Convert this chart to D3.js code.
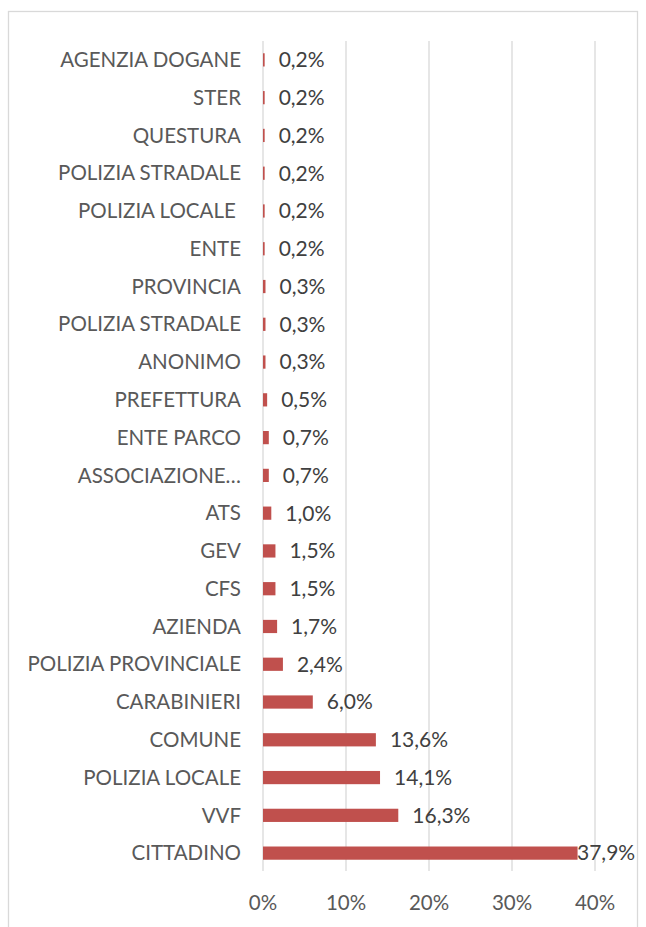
<!DOCTYPE html>
<html>
<head>
<meta charset="utf-8">
<title>Segnalazioni per fonte</title>
<script src="https://cdn.jsdelivr.net/npm/d3@7"></script>
<style>
  body { margin: 0; background: #fff; }
  svg text { font-family: Lato, "Open Sans", sans-serif; }
</style>
</head>
<body>
<div id="chart"></div>
<script>
// categories top -> bottom, values in %
var categories = ["AGENZIA DOGANE", "STER", "QUESTURA", "POLIZIA STRADALE", "POLIZIA LOCALE ",
  "ENTE", "PROVINCIA", "POLIZIA STRADALE", "ANONIMO", "PREFETTURA", "ENTE PARCO",
  "ASSOCIAZIONE…", "ATS", "GEV", "CFS", "AZIENDA", "POLIZIA PROVINCIALE", "CARABINIERI",
  "COMUNE", "POLIZIA LOCALE", "VVF", "CITTADINO"];
var values = [0.2, 0.2, 0.2, 0.2, 0.2, 0.2, 0.3, 0.3, 0.3, 0.5, 0.7, 0.7, 1.0, 1.5, 1.5, 1.7,
  2.4, 6.0, 13.6, 14.1, 16.3, 37.9];
var ticks = [0, 10, 20, 30, 40];

var width = 646, height = 927;

var svg = d3.select("#chart").append("svg")
  .attr("width", width)
  .attr("height", height);

// chart border
svg.append("rect")
  .attr("x", 8.5).attr("y", 11.5)
  .attr("width", 629).attr("height", 930)
  .attr("fill", "none")
  .attr("stroke", "#d9d9d9")
  .attr("stroke-width", 1.3);

var x = d3.scaleLinear().domain([0, 40]).range([263, 595]);
var y = d3.scaleBand().domain(d3.range(categories.length)).range([41, 872]).paddingInner(0.65).paddingOuter(0.325);

// gridlines
svg.selectAll("line.grid").data(ticks).enter().append("line")
  .attr("class", "grid")
  .attr("x1", d => x(d)).attr("x2", d => x(d))
  .attr("y1", 41).attr("y2", 871)
  .attr("stroke", "#d9d9d9")
  .attr("stroke-width", 1.3);

// tick labels
svg.selectAll("text.tick").data(ticks).enter().append("text")
  .attr("class", "tick")
  .attr("x", d => x(d)).attr("y", 910)
  .attr("text-anchor", "middle")
  .attr("font-size", 20.5)
  .attr("fill", "#595959")
  .text(d => d + "%");

// bars
svg.selectAll("rect.bar").data(values).enter().append("rect")
  .attr("class", "bar")
  .attr("x", x(0))
  .attr("y", (d, i) => y(i))
  .attr("width", d => x(d) - x(0))
  .attr("height", y.bandwidth())
  .attr("fill", "#c0504d");

// category labels
svg.selectAll("text.cat").data(categories).enter().append("text")
  .attr("class", "cat")
  .attr("x", 241)
  .attr("y", (d, i) => y(i) + y.bandwidth() / 2)
  .attr("dy", "0.35em")
  .attr("text-anchor", "end")
  .attr("font-size", 20.5)
  .attr("fill", "#595959")
  .style("white-space", "pre")
  .text(d => d);

// value labels
svg.selectAll("text.val").data(values).enter().append("text")
  .attr("class", "val")
  .attr("x", d => Math.min(x(d) + 14, 577))
  .attr("y", (d, i) => y(i) + y.bandwidth() / 2)
  .attr("dy", "0.35em")
  .attr("font-size", 21)
  .attr("fill", "#404040")
  .text(d => d.toFixed(1).replace(".", ",") + "%");
</script>
</body>
</html>
